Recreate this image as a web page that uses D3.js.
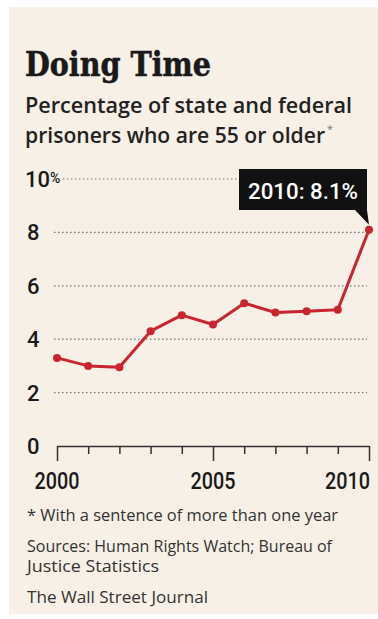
<!DOCTYPE html>
<html>
<head>
<meta charset="utf-8">
<script src="https://cdn.jsdelivr.net/npm/d3@7"></script>
<style>
  body { margin: 0; background: #fff; }
  svg { display: block; }
</style>
</head>
<body>
<script>
// data
const years = [2000, 2001, 2002, 2003, 2004, 2005, 2006, 2007, 2008, 2009, 2010]
const shares = [3.3, 3.0, 2.95, 4.3, 4.9, 4.55, 5.35, 5.0, 5.05, 5.1, 8.1]
const yTicks = [0, 2, 4, 6, 8, 10]
const xLabels = [2000, 2005, 2010]

const W = 378, H = 619
const svg = d3.select("body").append("svg")
  .attr("width", W)
  .attr("height", H)

// beige panel
svg.append("rect")
  .attr("x", 9).attr("y", 7)
  .attr("width", W - 9).attr("height", H - 12)
  .attr("fill", "#f6f0e6")

// title + subtitle
svg.append("text")
  .attr("x", 25).attr("y", 76)
  .attr("font-family", "DejaVu Serif")
  .attr("font-weight", "bold")
  .attr("font-size", 34)
  .attr("textLength", 186)
  .attr("lengthAdjust", "spacingAndGlyphs")
  .attr("fill", "#1a1a1a")
  .attr("stroke", "#1a1a1a")
  .attr("stroke-width", 0.6)
  .text("Doing Time")

const sub = ["Percentage of state and federal", "prisoners who are 55 or older"]
svg.selectAll(".sub")
  .data(sub)
  .enter().append("text")
  .attr("class", "sub")
  .attr("x", 25)
  .attr("y", (d, i) => 113 + i * 30)
  .attr("font-family", "Open Sans")
  .attr("font-weight", 600)
  .attr("font-size", 21)
  .attr("textLength", (d, i) => i == 0 ? 327 : 300)
  .attr("lengthAdjust", "spacingAndGlyphs")
  .attr("fill", "#222")
  .text(d => d)
svg.append("text")
  .attr("x", 327).attr("y", 133)
  .attr("font-family", "Open Sans")
  .attr("font-size", 11)
  .attr("fill", "#777")
  .text("*")

// scales
const x = d3.scaleLinear().domain([2000, 2010]).range([57, 369])
const y = d3.scaleLinear().domain([0, 10]).range([446, 179])

// gridlines
svg.selectAll(".grid")
  .data(yTicks.filter(d => d > 0))
  .enter().append("line")
  .attr("class", "grid")
  .attr("x1", d => d == 10 ? 63 : 54)
  .attr("x2", 367)
  .attr("y1", d => y(d)).attr("y2", d => y(d))
  .attr("stroke", "#777")
  .attr("stroke-width", 1.2)
  .attr("stroke-dasharray", "1.5,2.5")

// y labels
svg.selectAll(".ylab")
  .data(yTicks)
  .enter().append("text")
  .attr("class", "ylab")
  .attr("x", d => d == 10 ? 25 : 27)
  .attr("y", d => y(d) + 8)
  .attr("font-family", "Roboto")
  .attr("font-weight", 500)
  .attr("font-size", 22)
  .attr("fill", "#1a1a1a")
  .text(d => d)
  .filter(d => d == 10)
  .append("tspan")
  .attr("font-size", 14)
  .attr("dy", -4)
  .text("%")

// x axis
const xAxis = svg.append("g")
  .attr("transform", `translate(0, ${y(0)})`)
  .call(d3.axisBottom(x)
    .tickValues(years)
    .tickSize(0)
    .tickFormat(""))
xAxis.select(".domain").attr("stroke", "#333").attr("stroke-width", 1.5)
xAxis.selectAll(".tick").append("line")
  .attr("y2", d => xLabels.includes(d) ? 15 : 8)
  .attr("stroke", "#333")
  .attr("stroke-width", 1.5)

svg.selectAll(".xlab")
  .data(xLabels)
  .enter().append("text")
  .attr("class", "xlab")
  .attr("x", d => d == 2010 ? x(d) + 1 - 22.5 : x(d))
  .attr("y", 489)
  .attr("text-anchor", "middle")
  .attr("font-family", "Roboto")
  .attr("font-weight", 500)
  .attr("font-size", 23)
  .attr("textLength", 45)
  .attr("lengthAdjust", "spacingAndGlyphs")
  .attr("fill", "#1a1a1a")
  .text(d => d)

// line
const line = d3.line()
  .x((d, i) => x(years[i]))
  .y(d => y(d))
svg.append("path")
  .datum(shares)
  .attr("d", line)
  .attr("fill", "none")
  .attr("stroke", "#c9252f")
  .attr("stroke-width", 3)
  .attr("stroke-linejoin", "round")

svg.selectAll(".dot")
  .data(shares)
  .enter().append("circle")
  .attr("class", "dot")
  .attr("cx", (d, i) => x(years[i]))
  .attr("cy", d => y(d))
  .attr("r", 4)
  .attr("fill", "#c9252f")

// callout for the last point
const lastX = x(years[years.length - 1])
const lastY = y(shares[shares.length - 1])
const bx = 239, bw = 128, by = 169, bh = 41
svg.append("path")
  .attr("d", `M${bx},${by} h${bw} v${bh} L${lastX},${lastY - 5} L${bx + bw - 12},${by + bh} H${bx} Z`)
  .attr("fill", "#111")
svg.append("text")
  .attr("x", bx + bw / 2)
  .attr("y", by + 30)
  .attr("text-anchor", "middle")
  .attr("font-family", "Roboto")
  .attr("font-weight", 500)
  .attr("font-size", 22)
  .attr("textLength", 110)
  .attr("lengthAdjust", "spacingAndGlyphs")
  .attr("fill", "#fff")
  .text(years[years.length - 1] + ": " + shares[shares.length - 1] + "%")

// notes
const notes = [
  ["* With a sentence of more than one year", 521, 311],
  ["Sources: Human Rights Watch; Bureau of", 552, 305],
  ["Justice Statistics", 572, 132],
  ["The Wall Street Journal", 603, 181]
]
svg.selectAll(".note")
  .data(notes)
  .enter().append("text")
  .attr("class", "note")
  .attr("x", 27)
  .attr("y", d => d[1])
  .attr("font-family", "Open Sans")
  .attr("font-size", 16)
  .attr("textLength", d => d[2])
  .attr("lengthAdjust", "spacingAndGlyphs")
  .attr("fill", "#333")
  .text(d => d[0])
</script>
</body>
</html>
